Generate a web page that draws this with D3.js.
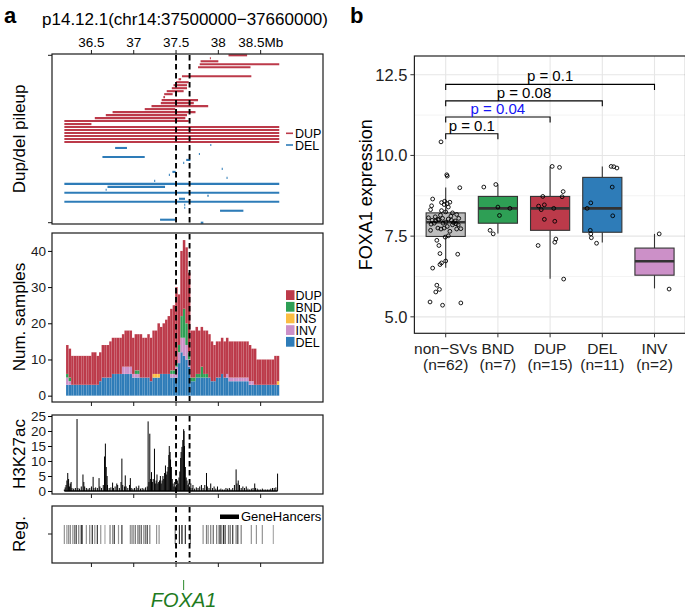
<!DOCTYPE html>
<html><head><meta charset="utf-8">
<script src="https://cdn.jsdelivr.net/npm/d3@7"></script>
<style>body{margin:0;background:#fff}svg{display:block}text{font-family:"Liberation Sans",Arial,Helvetica,sans-serif}</style>
</head><body>
<svg id="c" width="685" height="609"></svg>
<script>
// ---------------- DATA ----------------
const regionTitle = "p14.12.1(chr14:37500000\u221237660000)";
const xTicks = [36.5, 37, 37.5, 38, 38.5];
const xTickLabels = ["36.5", "37", "37.5", "38", "38.5Mb"];
const focusStart = 37.5, focusEnd = 37.66;
const svTypes = ["DUP", "BND", "INS", "INV", "DEL"];
const svColors = ["#BC3A4A", "#2E9F55", "#FBBD42", "#CC90C8", "#2E7CB8"];

// pileup segments: [row, start Mb, end Mb]
const dupSegments = [
  [0, 38.12, 38.34], [1, 37.90, 37.91], [2, 37.79, 38.00], [3, 37.78, 38.72], [4, 37.76, 38.38],
  [7, 37.57, 38.39], [8, 37.53, 37.56], [9, 37.50, 37.65], [10, 37.47, 37.63], [11, 37.45, 37.63],
  [12, 37.39, 37.59], [13, 37.36, 37.46], [14, 37.35, 37.37], [15, 37.33, 37.76], [16, 37.32, 37.71],
  [17, 37.21, 37.88], [18, 37.13, 37.49], [19, 36.75, 37.73], [20, 36.67, 37.63], [21, 36.54, 37.61],
  [22, 36.18, 37.65], [23, 36.18, 36.50], [24, 36.18, 38.72], [25, 36.18, 38.72], [26, 36.18, 38.72],
  [27, 36.18, 38.72], [28, 36.18, 38.72], [29, 36.18, 38.72]
];
const delSegments = [
  [30, 37.905, 37.912], [31, 36.78, 36.92], [33, 37.770, 37.775], [34, 36.63, 37.13], [35, 37.62, 37.67],
  [36, 37.585, 37.59], [38, 38.040, 38.045], [39, 37.457, 37.496], [40, 37.415, 37.42], [41, 38.097, 38.10],
  [42, 37.242, 37.247], [43, 36.18, 38.72], [44, 36.69, 37.37], [45, 36.668, 36.673], [46, 36.18, 38.72],
  [47, 37.87, 37.886], [48, 37.535, 37.606], [49, 36.18, 38.72], [50, 37.597, 37.60], [51, 37.597, 37.60],
  [52, 38.02, 38.296], [55, 37.311, 37.488], [56, 37.792, 37.823]
];

// stacked counts per 30 kb bin starting at 36.20 Mb
const binStart = 36.2, binWidth = 0.03;
const cntDEL = [3,3,3,3,3,3,3,3,3,3, 3,3,3,4,5,5,5,5,6,6, 6,6,6,6,6,6,5,5,5,5, 5,5,5,4,5,5,5,6,6,6,
  6,5,5,5,9,12,11,10,8,4, 4,5,5,5,5,5,5,4,4,5, 5,6,5,5,4,4,4,4,4,4, 4,4,3,3,3,3,3,3,3,3, 3,3,3,3];
const cntINV = [2,1,0,0,0,0,0,0,0,0, 0,0,0,0,0,0,0,0,0,0, 0,0,2,2,2,2,1,1,1,0, 0,0,0,0,0,0,0,0,0,0,
  0,1,1,3,3,4,5,4,2,0, 0,0,0,0,0,0,0,0,0,0, 0,0,0,1,1,1,1,1,1,1, 1,1,1,1,0,0,0,0,0,0, 0,0,0,0];
const cntINS = [0,0,0,0,0,0,0,0,0,0, 0,0,0,0,0,0,0,0,0,0, 0,0,0,0,0,0,0,0,0,0, 0,0,0,0,1,1,1,0,0,0,
  0,0,0,0,0,0,0,0,0,0, 0,0,0,0,0,0,0,0,0,0, 0,0,0,0,0,0,0,0,0,0, 0,0,0,0,0,0,0,0,0,0, 0,0,0,1];
const cntBND = [1,1,0,0,0,0,0,0,0,0, 0,0,0,0,0,0,0,0,0,0, 0,0,0,0,0,0,0,1,1,0, 0,0,0,0,0,0,0,0,0,0,
  0,1,1,1,2,6,8,6,2,1, 1,1,1,3,1,1,0,0,0,0, 0,0,0,0,0,0,0,0,0,0, 0,0,0,0,0,0,0,0,0,0, 0,0,0,0];
const cntDUP = [8,8,8,8,8,8,8,8,8,8, 9,9,8,8,9,9,9,10,10,10, 10,10,9,10,10,10,10,10,10,12, 11,11,12,12,12,12,14,13,14,15,
  16,17,18,21,14,18,19,21,22,13, 13,13,12,11,12,12,12,11,10,10, 10,10,10,10,10,10,10,10,10,10, 10,10,10,9,10,7,7,7,7,7, 7,7,8,7];

// H3K27ac signal: position (Mb) and value
const h3kPos = [36.18,36.19,36.20,36.21,36.22,36.23,36.24,36.25,36.26,36.27,36.29,36.31,36.33,36.34,36.36,36.38,36.40,36.41,36.42,36.44,
  36.46,36.48,36.50,36.52,36.53,36.55,36.57,36.59,36.60,36.62,36.64,36.655,36.665,36.675,36.685,36.69,36.71,36.73,36.75,36.76,
  36.78,36.80,36.81,36.83,36.85,36.86,36.87,36.89,36.90,36.91,36.93,36.95,36.96,36.97,36.99,37.01,37.03,37.05,37.06,37.08,
  37.10,37.12,37.14,37.16,37.17,37.18,37.19,37.20,37.21,37.22,37.23,37.245,37.255,37.265,37.275,37.285,37.295,37.305,37.315,37.325,
  37.335,37.345,37.355,37.365,37.375,37.385,37.395,37.405,37.415,37.42,37.43,37.435,37.445,37.455,37.465,37.475,37.485,37.495,37.505,37.515,
  37.525,37.535,37.545,37.555,37.56,37.57,37.58,37.59,37.595,37.60,37.61,37.62,37.63,37.64,37.65,37.66,37.675,37.69,37.70,37.72,
  37.74,37.76,37.78,37.80,37.82,37.84,37.86,37.87,37.89,37.91,37.93,37.95,37.97,37.99,38.01,38.03,38.05,38.07,38.09,38.11,
  38.13,38.15,38.17,38.19,38.21,38.22,38.235,38.25,38.27,38.29,38.31,38.33,38.35,38.37,38.39,38.41,38.43,38.44,38.46,38.48,
  38.50,38.52,38.54,38.56,38.58,38.60,38.62,38.64,38.66,38.68,38.70];
const h3kVal = [0.5,1.2,2.0,3.5,6.0,4.0,1.5,2.5,3.0,1.0,0.8,1.0,24.0,1.0,0.8,1.5,5.5,3.0,1.5,1.0,
  0.8,1.0,1.5,4.7,1.0,1.2,1.0,4.3,1.5,1.0,2.0,11.5,15.8,8.0,5.0,2.0,1.0,1.2,2.8,1.0,
  1.5,2.5,2.0,1.0,3.0,10.8,2.0,1.5,5.2,1.5,1.0,2.0,4.3,1.0,0.8,1.0,1.5,1.0,1.8,0.8,
  1.0,0.8,1.2,1.5,23.2,3.0,19.1,4.0,6.3,3.0,4.0,14.1,2.5,3.5,5.5,2.5,3.0,3.5,5.0,2.5,
  3.5,5.0,4.0,6.0,8.5,5.5,6.5,8.0,12.0,15.0,13.0,10.5,8.0,4.0,2.5,1.5,3.0,1.5,2.0,3.5,
  2.5,4.5,6.5,11.0,13.0,14.7,17.0,20.6,20.0,15.0,8.0,4.5,3.5,2.0,2.5,1.5,2.5,1.0,2.0,0.8,
  1.2,1.0,1.5,2.0,1.0,2.0,6.0,1.5,1.0,2.5,1.0,1.5,0.8,1.5,0.5,0.8,0.5,0.5,1.0,0.8,
  1.0,0.5,1.0,2.0,7.2,2.5,3.5,2.0,1.0,1.5,1.0,1.5,0.8,0.5,0.8,1.0,2.5,1.0,0.8,0.5,
  0.5,0.8,0.5,0.5,0.5,0.5,0.8,1.0,1.0,1.2,5.8];

// GeneHancer elements: position (Mb) and score (darkness)
const ghPos = [36.18,36.21,36.23,36.25,36.28,36.30,36.32,36.35,36.38,36.39,36.44,36.48,36.51,36.54,36.57,36.61,36.66,36.72,36.75,36.77,
  36.82,36.86,36.96,36.98,37.00,37.02,37.05,37.07,37.09,37.12,37.14,37.16,37.19,37.27,37.30,37.49,37.54,37.57,37.61,37.67,
  37.82,37.86,37.88,37.91,37.94,37.98,38.01,38.03,38.06,38.08,38.12,38.14,38.17,38.21,38.23,38.27,38.39,38.45,38.52,38.65];
const ghScore = [0.4,0.4,0.4,0.5,0.4,0.5,0.8,0.5,0.9,0.8,0.4,0.5,0.85,0.4,0.8,0.4,0.3,0.5,0.4,0.8,
  0.4,0.8,0.4,0.5,0.4,0.5,0.6,0.5,0.6,0.5,0.5,0.75,0.5,0.4,0.4,0.5,0.85,1.0,0.85,0.5,
  0.4,0.5,0.4,0.5,0.6,0.5,0.7,0.85,0.85,0.8,0.5,0.6,0.8,0.5,0.8,0.5,0.4,0.4,0.4,0.3];
const geneName = "FOXA1", genePos = 37.59;

// panel b
const groups = ["non\u2212SVs", "BND", "DUP", "DEL", "INV"];
const groupN = ["(n=62)", "(n=7)", "(n=15)", "(n=11)", "(n=2)"];
const groupFill = ["#BEBEBE", "#2E9F55", "#BC3A4A", "#2E7CB8", "#CC90C8"];
const boxLow = [6.52, 7.58, 6.18, 7.30, 5.88];
const boxQ1 = [7.49, 7.90, 7.68, 7.62, 6.29];
const boxMed = [7.93, 8.36, 8.36, 8.36, 6.72];
const boxQ3 = [8.22, 8.73, 8.73, 9.32, 7.13];
const boxHigh = [9.01, 9.10, 9.66, 9.66, 7.57];
const yTicksB = [5.0, 7.5, 10.0, 12.5];
// points: [jitter offset (category units), expression]
const ptsNonSV = [[-0.09,10.42],[0.02,9.40],[0.03,9.36],[0.27,9.00],[-0.25,8.65],[-0.08,8.54],[-0.27,8.44],[0.03,8.51],[0.08,8.55],[-0.03,8.48],
  [-0.29,8.32],[-0.08,8.29],[0,8.25],[0.13,8.22],[0.21,8.17],[-0.33,8.07],[-0.26,7.99],[-0.19,7.97],[-0.13,8.01],[-0.06,8.05],
  [0.05,8.03],[0.11,7.99],[0.18,7.97],[0.25,8.05],[0,7.93],[-0.28,7.87],[-0.22,7.90],[-0.15,7.75],[-0.03,7.75],[0.03,7.80],
  [0.13,7.85],[0.24,7.85],[0.29,7.73],[-0.29,7.68],[-0.09,7.72],[0.21,7.72],[0.05,7.51],[-0.01,7.47],[-0.17,7.37],[-0.13,7.21],
  [0.23,6.94],[-0.11,6.96],[0,6.73],[-0.08,6.67],[-0.11,6.62],[-0.25,6.51],[-0.17,5.98],[-0.12,5.85],[-0.19,5.77],[-0.30,5.46],
  [-0.06,5.36],[0.29,5.43],[-0.20,8.10],[0.10,8.12],[-0.05,7.90],[0.15,7.92],[-0.15,8.02],[0.20,7.88],[0.05,8.40],[-0.10,8.15],
  [0.08,7.65],[-0.02,8.58]];
const ptsBND = [[-0.27,9.02],[-0.04,9.10],[0,8.40],[0.23,8.36],[0.03,8.14],[-0.15,7.68],[-0.09,7.57]];
const ptsDUP = [[0.04,9.66],[0.18,9.63],[0.25,8.88],[-0.14,8.73],[0.23,8.72],[-0.22,8.43],[-0.11,8.47],[-0.17,8.32],[0.07,8.36],
  [-0.11,8.02],[0.09,7.96],[-0.23,7.21],[0.11,7.41],[0.09,7.31],[0.26,6.17]];
const ptsDEL = [[0.17,9.66],[0.28,9.61],[0.22,9.65],[0.19,9.02],[-0.22,8.53],[-0.29,8.36],[0.20,8.13],[-0.23,7.68],[-0.22,7.57],[-0.21,7.45],[-0.11,7.28]];
const ptsINV = [[0.09,7.57],[0.28,5.86]];
const compTo = ["BND", "DUP", "DEL", "INV"];
const compLabel = ["p = 0.1", "p = 0.04", "p = 0.08", "p = 0.1"];
const compY = [10.67, 11.19, 11.69, 12.20];
const compColor = ["#000", "#1515F5", "#000", "#000"];

// ---------------- DRAW ----------------
const svg = d3.select("#c");
const ink = "#1a1a1a";
const colorOf = t => svColors[svTypes.indexOf(t)];
const x = d3.scaleLinear().domain([36.034, 39.237]).range([52, 323]);
const P = {pile: [54, 224], num: [233, 402], h3k: [415, 494], reg: [506, 563]};

// panel letters and title
svg.append("text").attr("x", 4).attr("y", 23).attr("font-size", 22).attr("font-weight", "bold").text("a");
svg.append("text").attr("x", 350).attr("y", 23).attr("font-size", 22).attr("font-weight", "bold").text("b");
svg.append("text").attr("x", 185).attr("y", 25).attr("text-anchor", "middle").attr("font-size", 17).text(regionTitle);

// top axis
const gTop = svg.append("g");
xTicks.forEach((t, i) => {
  gTop.append("line").attr("x1", x(t)).attr("x2", x(t)).attr("y1", 50).attr("y2", 54).attr("stroke", ink).attr("stroke-width", 1);
  gTop.append("text").attr("x", x(t)).attr("y", 46.5).attr("text-anchor", "middle").attr("font-size", 13.5).text(xTickLabels[i]);
});

// y titles panel a
function yTitle(txt, cy, bx, fs) {
  svg.append("text").attr("transform", `translate(${bx},${cy}) rotate(-90)`).attr("text-anchor", "middle")
    .attr("font-size", fs).text(txt);
}
yTitle("Dup/del pileup", 139, 25, 17);
yTitle("Num. samples", 317, 25, 17);
yTitle("H3K27ac", 454, 25, 17);
yTitle("Reg.", 534, 25, 17);

function dashed(range) {
  [focusStart, focusEnd].forEach(v => {
    svg.append("line").attr("x1", x(v)).attr("x2", x(v)).attr("y1", range[0] + 1).attr("y2", range[1] - 1)
      .attr("stroke", "#000").attr("stroke-width", 1.9).attr("stroke-dasharray", "5.5,3.5");
  });
}
function border(range) {
  svg.append("rect").attr("x", 52).attr("y", range[0]).attr("width", 271).attr("height", range[1] - range[0])
    .attr("fill", "none").attr("stroke", ink).attr("stroke-width", 1.2);
}
function bottomTicks(yb) {
  xTicks.forEach(t => svg.append("line").attr("x1", x(t)).attr("x2", x(t)).attr("y1", yb).attr("y2", yb + 4)
    .attr("stroke", ink).attr("stroke-width", 1));
}

// ---- pileup
const yP = d3.scaleLinear().domain([0, 56]).range([55.3, 222.7]);
const gP = svg.append("g");
function segs(data, col) {
  gP.selectAll(null).data(data).join("line")
    .attr("x1", d => x(d[1])).attr("x2", d => Math.max(x(d[2]), x(d[1]) + 1))
    .attr("y1", d => yP(d[0])).attr("y2", d => yP(d[0]))
    .attr("stroke", col).attr("stroke-width", 2.1);
}
segs(dupSegments, colorOf("DUP"));
segs(delSegments, colorOf("DEL"));
dashed(P.pile);
border(P.pile);
[0, 56].forEach(r => svg.append("line").attr("x1", 48).attr("x2", 52).attr("y1", yP(r)).attr("y2", yP(r)).attr("stroke", ink));
[["DUP", 133.3, 138.3], ["DEL", 145, 150]].forEach(([k, ly, ty]) => {
  svg.append("line").attr("x1", 286).attr("x2", 293).attr("y1", ly).attr("y2", ly).attr("stroke", colorOf(k)).attr("stroke-width", 1.6);
  svg.append("text").attr("x", 295).attr("y", ty).attr("font-size", 12.5).text(k);
});

// ---- num samples
const yN = d3.scaleLinear().domain([-1.75, 44.95]).range([402, 233]);
const binsData = cntDEL.map((v, i) => ({i, DEL: v, INV: cntINV[i], INS: cntINS[i], BND: cntBND[i], DUP: cntDUP[i]}));
const stacked = d3.stack().keys(["DEL", "INV", "INS", "BND", "DUP"])(binsData);
const gN = svg.append("g");
stacked.forEach(layer => {
  gN.selectAll(null).data(layer).join("rect")
    .attr("x", d => x(binStart + d.data.i * binWidth))
    .attr("width", d => x(binStart + (d.data.i + 1) * binWidth) - x(binStart + d.data.i * binWidth))
    .attr("y", d => yN(d[1])).attr("height", d => Math.max(0, yN(d[0]) - yN(d[1])))
    .attr("fill", colorOf(layer.key)).attr("stroke", "#fff").attr("stroke-opacity", 0.18).attr("stroke-width", 0.3);
});
dashed(P.num);
border(P.num);
const axN = svg.append("g").attr("transform", "translate(52,0)")
  .call(d3.axisLeft(yN).tickValues([0, 10, 20, 30, 40]).tickSize(4).tickPadding(2));
axN.select(".domain").remove();
axN.selectAll("text").attr("font-size", 13.5).attr("font-family", '"Liberation Sans", Arial, sans-serif').attr("fill", ink);
bottomTicks(P.num[1]);
const legY = [300, 311.7, 323.3, 335, 346.7];
svTypes.forEach((k, i) => {
  svg.append("rect").attr("x", 286).attr("y", legY[i] - 9.8).attr("width", 8.5).attr("height", 9.8).attr("fill", svColors[i]);
  svg.append("text").attr("x", 295.5).attr("y", legY[i]).attr("font-size", 12.5).text(k);
});

// ---- H3K27ac
const yH = d3.scaleLinear().domain([-1, 25.33]).range([494, 415]);
const gH = svg.append("g");
gH.append("line").attr("x1", x(h3kPos[0])).attr("x2", x(h3kPos[h3kPos.length - 1])).attr("y1", yH(0)).attr("y2", yH(0))
  .attr("stroke", "#000").attr("stroke-width", 1.6);
gH.selectAll(null).data(h3kPos).join("line")
  .attr("x1", d => x(d)).attr("x2", d => x(d))
  .attr("y1", yH(0)).attr("y2", (d, i) => yH(h3kVal[i]))
  .attr("stroke", "#000").attr("stroke-width", 1);
dashed(P.h3k);
border(P.h3k);
const axH = svg.append("g").attr("transform", "translate(52,0)")
  .call(d3.axisLeft(yH).tickValues([0, 5, 10, 15, 20, 25]).tickSize(4).tickPadding(2));
axH.select(".domain").remove();
axH.selectAll("text").attr("font-size", 13.5).attr("font-family", '"Liberation Sans", Arial, sans-serif').attr("fill", ink);
bottomTicks(P.h3k[1]);

// ---- Reg
const gR = svg.append("g");
gR.selectAll(null).data(ghPos).join("line")
  .attr("x1", d => x(d)).attr("x2", d => x(d)).attr("y1", 525).attr("y2", 544)
  .attr("stroke", (d, i) => { const g = Math.round(238 - ghScore[i] * 225); return `rgb(${g},${g},${g})`; })
  .attr("stroke-width", 1.2);
dashed(P.reg);
border(P.reg);
svg.append("line").attr("x1", 48).attr("x2", 52).attr("y1", 534).attr("y2", 534).attr("stroke", ink);
bottomTicks(P.reg[1]);
svg.append("rect").attr("x", 220).attr("y", 514.5).attr("width", 19).attr("height", 4.5).attr("fill", "#000");
svg.append("text").attr("x", 241).attr("y", 520.5).attr("font-size", 13).text("GeneHancers");

// gene label
svg.append("line").attr("x1", x(genePos)).attr("x2", x(genePos)).attr("y1", 580).attr("y2", 590).attr("stroke", "#2a8a2a").attr("stroke-width", 1);
svg.append("text").attr("x", x(genePos)).attr("y", 606.5).attr("text-anchor", "middle").attr("font-size", 20)
  .attr("font-style", "italic").attr("fill", "#1E7B1E").text(geneName);

// ---------------- PANEL B ----------------
const L = 414.4, R = 685.5, T = 56, B = 333.3;
const yB = d3.scaleLinear().domain([4.49, 13.08]).range([B, T]);
const xB = d3.scalePoint().domain(groups).range([445.7, 654.5]);
const step = xB.step();
const gB = svg.append("g");
[6.25, 8.75, 11.25].forEach(v => gB.append("line").attr("x1", L).attr("x2", R).attr("y1", yB(v)).attr("y2", yB(v)).attr("stroke", "#EBEBEB").attr("stroke-width", 0.6));
yTicksB.forEach(v => gB.append("line").attr("x1", L).attr("x2", R).attr("y1", yB(v)).attr("y2", yB(v)).attr("stroke", "#E6E6E6").attr("stroke-width", 1.1));
groups.forEach(g => gB.append("line").attr("x1", xB(g)).attr("x2", xB(g)).attr("y1", T).attr("y2", B).attr("stroke", "#E6E6E6").attr("stroke-width", 1.1));

const bw = 0.75 * step;
groups.forEach((g, i) => {
  const cx = xB(g);
  gB.append("line").attr("x1", cx).attr("x2", cx).attr("y1", yB(boxHigh[i])).attr("y2", yB(boxQ3[i])).attr("stroke", "#333").attr("stroke-width", 1.1);
  gB.append("line").attr("x1", cx).attr("x2", cx).attr("y1", yB(boxQ1[i])).attr("y2", yB(boxLow[i])).attr("stroke", "#333").attr("stroke-width", 1.1);
  gB.append("rect").attr("x", cx - bw / 2).attr("width", bw).attr("y", yB(boxQ3[i])).attr("height", yB(boxQ1[i]) - yB(boxQ3[i]))
    .attr("fill", groupFill[i]).attr("stroke", "#333").attr("stroke-width", 1.1);
  gB.append("line").attr("x1", cx - bw / 2).attr("x2", cx + bw / 2).attr("y1", yB(boxMed[i])).attr("y2", yB(boxMed[i])).attr("stroke", "#333").attr("stroke-width", 2.6);
});
const allPts = [ptsNonSV, ptsBND, ptsDUP, ptsDEL, ptsINV];
allPts.forEach((pts, i) => {
  gB.selectAll(null).data(pts).join("circle")
    .attr("cx", d => xB(groups[i]) + d[0] * step).attr("cy", d => yB(d[1])).attr("r", 1.9)
    .attr("fill", "none").attr("stroke", "#000").attr("stroke-width", 0.9);
});
// comparisons
const tip = 0.17;
compTo.forEach((g, i) => {
  const x1 = xB(groups[0]), x2 = xB(g), yv = yB(compY[i]), yt = yB(compY[i] - tip);
  gB.append("path").attr("d", `M${x1},${yt}V${yv}H${x2}V${yt}`).attr("fill", "none").attr("stroke", "#000").attr("stroke-width", 1.1);
  gB.append("text").attr("x", (x1 + x2) / 2).attr("y", yv - 3).attr("text-anchor", "middle").attr("font-size", 15)
    .attr("fill", compColor[i]).text(compLabel[i]);
});
gB.append("rect").attr("x", L).attr("y", T).attr("width", R - L).attr("height", B - T).attr("fill", "none").attr("stroke", "#222").attr("stroke-width", 1.2);
yTicksB.forEach(v => {
  gB.append("line").attr("x1", L - 4).attr("x2", L).attr("y1", yB(v)).attr("y2", yB(v)).attr("stroke", "#333");
  gB.append("text").attr("x", L - 7).attr("y", yB(v)).attr("dy", "0.36em").attr("text-anchor", "end").attr("font-size", 16.5)
    .attr("fill", "#222").text(v.toFixed(1));
});
groups.forEach((g, i) => {
  gB.append("line").attr("x1", xB(g)).attr("x2", xB(g)).attr("y1", B).attr("y2", B + 4).attr("stroke", "#333");
  gB.append("text").attr("x", xB(g)).attr("y", 354).attr("text-anchor", "middle").attr("font-size", 15.5).attr("fill", "#222").text(g);
  gB.append("text").attr("x", xB(g)).attr("y", 370).attr("text-anchor", "middle").attr("font-size", 15.5).attr("fill", "#222").text(groupN[i]);
});
svg.append("text").attr("transform", `translate(372,${(T + B) / 2}) rotate(-90)`).attr("text-anchor", "middle")
  .attr("font-size", 18).text("FOXA1 expression");
</script>
</body></html>
